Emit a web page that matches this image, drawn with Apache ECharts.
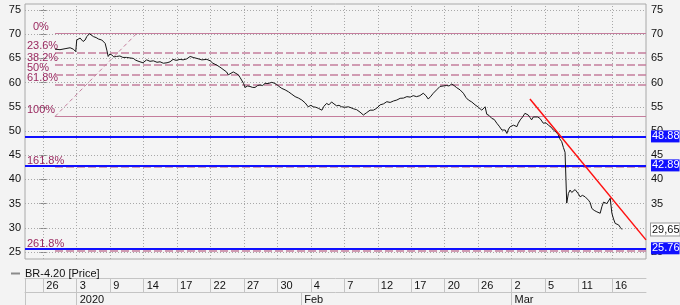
<!DOCTYPE html>
<html><head><meta charset="utf-8">
<script src="https://cdn.jsdelivr.net/npm/echarts@6/dist/echarts.min.js"></script>
<style>html,body{margin:0;padding:0;background:#f3f3f3;}#c{width:680px;height:305px;}</style>
</head><body><div id="c"></div>
<script>
// ---------- data ----------
const priceSeriesName = 'BR-4.20 [Price]';
// x position in bars (10 bars per date tick cell), price value
const priceBars = [3.5,5.0,6.5,8.0,9.0,9.7,10.0,11.0,11.9,12.5,13.0,13.8,14.3,15.0,15.8,16.5,17.5,17.9,18.5,19.0,19.4,19.9,20.5,21.1,21.9,22.9,23.8,24.9,25.9,26.9,27.7,28.9,29.8,30.9,31.9,32.9,34.0,34.9,35.9,37.0,37.9,38.8,39.7,40.9,41.8,42.9,43.9,44.8,45.9,46.4,47.4,48.9,49.9,50.7,51.9,52.8,53.4,54.8,55.3,55.8,56.8,57.6,58.3,58.8,59.3,59.9,60.3,61.1,61.8,62.6,63.3,64.1,64.8,65.6,66.3,67.2,68.3,69.0,69.8,70.5,71.3,72.3,73.3,74.3,75.3,76.3,77.3,78.3,79.2,80.0,80.7,81.5,82.2,83.3,83.9,84.7,85.4,86.2,86.9,87.7,88.4,89.2,90.2,91.2,92.0,92.7,93.7,94.7,95.7,96.7,97.7,98.7,99.7,100.7,101.7,102.7,103.7,104.7,105.7,106.7,107.7,108.7,109.7,110.6,111.6,112.6,113.6,114.4,115.1,115.9,116.6,117.6,118.6,119.6,120.6,121.3,122.1,122.8,123.6,124.6,125.6,126.4,127.1,128.1,129.1,130.1,131.1,131.6,132.1,132.6,133.3,134.1,134.8,135.6,136.3,137.1,137.6,138.1,138.6,139.1,139.6,140.6,141.6,142.0,142.6,143.3,144.0,144.5,145.0,145.5,146.0,146.5,147.0,147.8,148.5,149.0,149.5,150.3,151.0,151.8,152.5,153.3,154.0,154.4,154.5,155.0,155.5,156.0,156.3,156.5,157.0,157.5,158.0,158.5,159.0,159.5,160.0,160.5,161.2,162.0,162.5,163.0,163.5,164.0,164.7,165.5,166.0,166.5,167.0,167.5,168.0,168.5,169.0,169.5,170.0,170.5,171.0,171.5,172.0,172.5,173.0];
const priceValues = [66.9,66.8,67.0,67.2,66.9,66.4,68.8,69.2,68.5,68.8,69.5,70.1,69.7,69.5,69.3,69.0,68.8,68.9,68.1,66.7,65.4,65.9,65.7,65.3,65.4,65.5,65.2,65.2,65.1,65.0,64.6,64.3,64.1,64.7,64.4,64.5,64.2,64.3,64.0,64.1,64.3,64.8,64.6,64.8,64.7,64.9,65.4,65.2,65.0,65.1,64.7,64.8,64.5,64.0,63.6,63.2,62.9,62.2,61.6,61.7,62.2,61.9,61.6,61.1,60.8,59.8,59.0,59.3,59.2,59.0,59.0,59.4,59.5,59.4,59.85,59.8,60.05,59.9,59.6,59.2,58.8,58.5,58.1,57.6,57.1,56.8,56.4,55.8,55.0,55.3,55.0,54.9,54.7,54.3,55.1,55.7,55.4,56.0,55.6,55.2,55.3,55.0,54.9,55.0,54.8,54.6,54.4,53.9,53.3,53.8,54.3,54.3,54.7,55.4,55.6,56.05,55.9,56.2,56.4,56.75,56.8,57.1,57.0,57.3,57.1,57.3,57.8,57.3,56.6,57.2,57.8,58.5,59.2,59.3,59.4,59.3,59.7,59.4,58.95,58.5,57.8,56.9,56.4,56.0,55.4,54.9,54.3,54.4,55.0,53.45,53.2,52.6,52.4,51.6,51.0,50.2,49.85,50.2,49.5,50.4,50.9,51.2,50.9,51.6,52.3,52.9,53.65,53.3,53.3,52.8,52.3,52.9,52.6,52.9,52.6,52.2,51.6,51.7,51.2,50.8,50.2,49.8,49.2,48.4,48.1,47.8,46.6,45.6,45.2,35.1,37.1,37.8,37.3,37.5,37.9,37.8,37.0,36.4,36.7,36.4,36.6,35.7,35.2,34.0,33.6,33.3,33.7,33.0,34.35,35.3,35.7,35.0,35.05,36.1,33.0,31.8,30.9,31.2,30.6,30.1,29.65];
const yTickValues = [25,30,35,40,45,50,55,60,65,70,75];
const dayTickBars = [0,10,20,30,40,50,60,70,80,90,100,110,120,130,140,150,160,170];
const dayTickLabels = ['26','3','9','14','17','22','27','30','4','7','12','17','20','26','2','5','11','16'];
const monthTickBars = [10,77.1,140];
const monthTickLabels = ['2020','Feb','Mar'];
const fibLabels = ['0%','23.6%','38.2%','50%','61.8%','100%','161.8%','261.8%'];
const fibLevels = [70.2,66.2,63.7,61.65,59.6,53.0,42.55,25.35];
const fibStartBar = 3.5;
const fibTrend = [[3.5,53.0],[28.0,70.2]];
const supportLevels = [48.88,42.89,25.76];
const resistanceTrend = [[145.5,56.6],[180.2,27.5]];
const lastPrice = 29.65;
const xRange = [-5.47,180.2];
const yRange = [23.55,76.24];

// ---------- styles ----------
const FONT = 'Liberation Sans';
const fibLineColor = '#c47d9c';
const fibTextColor = '#9a2a60';
const gridColor = '#a8a8a8';
const tableColor = '#c4c4c4';

const chart = echarts.init(document.getElementById('c'), null, {renderer:'canvas'});

const pricePairs = priceBars.map((b,i)=>[b, priceValues[i]]);
const fibLines = fibLevels.map((lv,i)=>{
  const solid = (fibLabels[i]==='0%' || fibLabels[i]==='100%');
  return [
    {coord:[fibStartBar, lv], lineStyle:{color:fibLineColor, width: solid?1.2:1.5, type: solid?'solid':[8,3]}},
    {coord:[xRange[1], lv]}
  ];
});
const fibMarks = fibLevels.map((lv,i)=>({
  name: fibLabels[i], coord:[-4.9, lv],
  label:{offset:[fibLabels[i]==='0%'?6:0,-6.5]}
}));
const gridLines = dayTickBars.map(v=>({xAxis:v})).concat(yTickValues.map(v=>({yAxis:v})));

const yAxisBase = (pos)=>({
  type:'value', position:pos, min:yRange[0], max:yRange[1],
  axisLine:{show:false},
  axisTick:{show:true, length:4, customValues:yTickValues, lineStyle:{color:'#888'}},
  axisLabel:{customValues:yTickValues, margin: pos==='left'?4:5, color:'#111', fontSize:11, fontFamily:FONT},
  splitLine:{show:false}
});
const lbl = (extra)=>Object.assign({show:true, position:'end', distance:5, padding:[1,0,0,1], fontSize:11, fontFamily:FONT}, extra);

const option = {
  animation:false,
  backgroundColor:'#f3f3f3',
  textStyle:{fontFamily:FONT},
  grid:{left:25, right:34, top:4, bottom:46, show:true, backgroundColor:'#f4f4f4', borderColor:'#a8a8a8', borderWidth:1},
  legend:{
    show:true, left:6, top:263, itemWidth:9, itemHeight:2, selectedMode:false,
    data:[{name:priceSeriesName, icon:'rect', itemStyle:{color:'#8a8a8a'}}],
    textStyle:{fontSize:11, color:'#111', fontFamily:FONT}
  },
  xAxis:[
    {type:'value', min:xRange[0], max:xRange[1],
     axisLine:{show:false}, axisTick:{show:false}, axisLabel:{show:false}, splitLine:{show:false}},
    {type:'value', min:xRange[0], max:xRange[1], position:'bottom', offset:19,
     axisLine:{show:true, lineStyle:{color:tableColor}},
     axisTick:{show:true, length:14, customValues:[xRange[0]].concat(dayTickBars), lineStyle:{color:tableColor}},
     axisLabel:{customValues:dayTickBars, margin:2, align:'left', padding:[0,0,0,3], color:'#111', fontSize:11, fontFamily:FONT,
       formatter:(v)=>{const k=dayTickBars.indexOf(v); return k>=0?dayTickLabels[k]:'';}},
     splitLine:{show:false}},
    {type:'value', min:xRange[0], max:xRange[1], position:'bottom', offset:33,
     axisLine:{show:true, lineStyle:{color:tableColor}},
     axisTick:{show:true, length:14, customValues:[xRange[0]].concat(monthTickBars), lineStyle:{color:tableColor}},
     axisLabel:{customValues:monthTickBars, margin:2, align:'left', padding:[0,0,0,3], color:'#111', fontSize:11, fontFamily:FONT,
       formatter:(v)=>{const k=monthTickBars.indexOf(v); return k>=0?monthTickLabels[k]:'';}},
     splitLine:{show:false}}
  ],
  yAxis:[yAxisBase('left'), yAxisBase('right')],
  series:[
    {
      name:'grid', type:'line', data:[[xRange[0], yRange[0]]], symbol:'none', silent:true, z:1,
      markLine:{silent:true, symbol:['none','none'], label:{show:false}, animation:false,
        lineStyle:{color:gridColor, width:1, type:[1,2]}, data:gridLines}
    },
    {
      name:'fib', type:'line', data:fibTrend, symbol:'none', silent:true,
      lineStyle:{color:fibLineColor, width:1, type:[4,3]}, z:3,
      markLine:{silent:true, symbol:['none','none'], label:{show:false}, data:fibLines},
      markPoint:{silent:true, symbol:'circle', symbolSize:0, data:fibMarks,
        label:{show:true, position:'right', distance:0, formatter:'{b}', color:fibTextColor, fontSize:11, fontFamily:FONT}}
    },
    {
      name:priceSeriesName, type:'line', data:pricePairs, symbol:'none', silent:true,
      lineStyle:{color:'#151515', width:1}, z:5
    },
    {
      name:'trend', type:'line', data:resistanceTrend, symbol:'none', silent:true,
      lineStyle:{color:'#ff1010', width:1.5}, z:6,
      markLine:{silent:true, symbol:['none','none'],
        data: supportLevels.map(v=>({yAxis:v, lineStyle:{color:'#1010ff', width:2, type:'solid'},
              label:lbl({formatter:v.toFixed(2), color:'#fff', backgroundColor:'#1010ff'})}))
          .concat([{yAxis:lastPrice, lineStyle:{color:'rgba(0,0,0,0)', width:1, type:'solid'},
              label:lbl({formatter:lastPrice.toFixed(2).replace('.',','), color:'#111', backgroundColor:'#ffffff', borderColor:'#999', borderWidth:1})}])
      }
    }
  ]
};
chart.setOption(option);
</script>
</body></html>
